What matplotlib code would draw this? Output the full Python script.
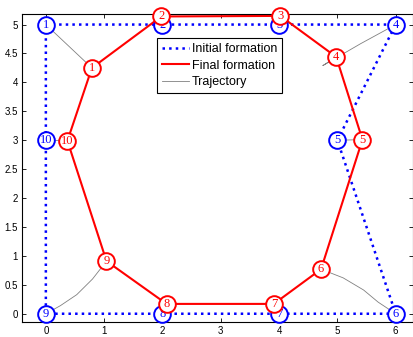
import matplotlib.pyplot as plt

# robot positions, numbered 1..10
ids = [1, 2, 3, 4, 5, 6, 7, 8, 9, 10]
init_x = [0, 2, 4, 6, 5, 6, 4, 2, 0, 0]
init_y = [5, 5, 5, 5, 3, 0, 0, 0, 0, 3]
final_x = [0.79, 1.98, 4.02, 4.98, 5.43, 4.72, 3.91, 2.07, 1.04, 0.37]
final_y = [4.25, 5.14, 5.15, 4.44, 3.01, 0.77, 0.17, 0.17, 0.91, 2.99]

# recorded paths (start -> end), some with intermediate samples
traj = [
    ([0, 0.79], [5, 4.25]),
    ([2, 1.98], [5, 5.14]),
    ([4, 4.02], [5, 5.15]),
    ([6, 5.4, 4.75, 4.98], [5, 4.67, 4.29, 4.44]),
    ([5, 5.43], [3, 3.01]),
    ([6, 5.7, 5.45, 5.1, 4.72], [0, 0.2, 0.41, 0.62, 0.77]),
    ([4, 3.91], [0, 0.17]),
    ([2, 2.07], [0, 0.17]),
    ([0, 0.25, 0.53, 0.8, 1.04], [0, 0.14, 0.33, 0.6, 0.91]),
    ([0, 0.37], [3, 2.99]),
]

fig = plt.figure(figsize=(4.14, 3.37), dpi=100)
ax = fig.add_axes([0.053, 0.045, 0.945, 0.913])

for i, (tx, ty) in enumerate(traj):
    ax.plot(tx, ty, color='0.5', lw=0.6, zorder=1,
            label='Trajectory' if i == 0 else None)

cx = init_x + [init_x[0]]
cy = init_y + [init_y[0]]
ax.plot(cx, cy, color='blue', ls=':', lw=1.8, zorder=2, label='Initial formation')
fx = final_x + [final_x[0]]
fy = final_y + [final_y[0]]
ax.plot(fx, fy, color='red', ls='-', lw=1.5, zorder=2, label='Final formation')

# start circles first, end circles on top of them
ax.plot(init_x, init_y, 'o', ms=12, mfc='white', mec='blue', mew=1.4, zorder=3,
        clip_on=False)
ax.plot(final_x, final_y, 'o', ms=12, mfc='white', mec='red', mew=1.4, zorder=5,
        clip_on=False)
for k, n in enumerate(ids):
    ax.text(init_x[k], init_y[k], str(n), color='blue', ha='center', va='center',
            fontsize=9, family='Liberation Serif', zorder=4)
    ax.text(final_x[k], final_y[k], str(n), color='red', ha='center', va='center',
            fontsize=9, family='Liberation Serif', zorder=6)

ax.set_xlim(-0.41, 6.3)
ax.set_ylim(-0.14, 5.18)
ax.set_xticks(range(0, 7))
ax.set_yticks([0, 0.5, 1, 1.5, 2, 2.5, 3, 3.5, 4, 4.5, 5])
ax.set_yticklabels(['0', '0.5', '1', '1.5', '2', '2.5', '3', '3.5', '4', '4.5', '5'])
ax.tick_params(direction='in', top=True, right=True, length=3, width=0.6,
               labelsize=7, pad=3)
for lab in ax.get_xticklabels() + ax.get_yticklabels():
    lab.set_family('Liberation Sans')
for s in ax.spines.values():
    s.set_linewidth(0.8)

handles, labels = ax.get_legend_handles_labels()
order = [labels.index('Initial formation'), labels.index('Final formation'),
         labels.index('Trajectory')]
leg = ax.legend([handles[i] for i in order], [labels[i] for i in order],
                loc='upper left', bbox_to_anchor=(0.345, 0.922), fancybox=False,
                edgecolor='black', framealpha=1, borderpad=0.4, labelspacing=0.35,
                handlelength=2.2, handletextpad=0.2, borderaxespad=0,
                prop={'family': 'Liberation Sans', 'size': 9})
leg.get_frame().set_linewidth(0.8)
leg.set_zorder(7)

fig.savefig('out.png', dpi=100)
